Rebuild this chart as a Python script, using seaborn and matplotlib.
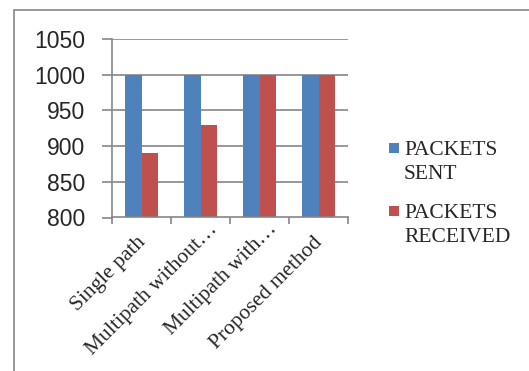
import matplotlib
matplotlib.use("Agg")
import matplotlib.pyplot as plt
from matplotlib.patches import Rectangle
from matplotlib.transforms import blended_transform_factory, ScaledTranslation
import numpy as np
import seaborn as sns
import pandas as pd

# Data
categories = ["Single path", "Multipath without…", "Multipath with…", "Proposed method"]
packets_sent = [1000, 1000, 1000, 1000]
packets_received = [890, 930, 1000, 1000]
series_names = ["PACKETS SENT", "PACKETS RECEIVED"]
y_ticks = [800, 850, 900, 950, 1000, 1050]

BLUE = "#4F81BD"
RED = "#C0504D"
GRID = "#868686"

df = pd.DataFrame({
    "category": categories * 2,
    "value": packets_sent + packets_received,
    "series": [series_names[0]] * len(categories) + [series_names[1]] * len(categories),
})

sns.set_style("white")
W, H = 529, 371
DPI = 100
fig = plt.figure(figsize=(W / DPI, H / DPI), dpi=DPI)
ax = fig.add_axes([112 / W, 1 - 217.5 / H, (348 - 112) / W, (217.5 - 39) / H])

sns.barplot(data=df, x="category", y="value", hue="series",
            palette=[BLUE, RED], width=0.57, saturation=1,
            edgecolor="none", linewidth=0, ax=ax, legend=False)

ax.set_ylim(800, 1050)
ax.set_xlim(-0.5, len(categories) - 0.5)
ax.set_yticks(y_ticks)
ax.set_yticklabels([str(t) for t in y_ticks], fontfamily="Liberation Sans", fontsize=16.5)
ax.yaxis.grid(True, color=GRID, linewidth=1.2)
ax.set_axisbelow(True)
ax.set_xlabel("")
ax.set_ylabel("")

for s in ["top", "right"]:
    ax.spines[s].set_visible(False)
for s in ["left", "bottom"]:
    ax.spines[s].set_color(GRID)
    ax.spines[s].set_linewidth(1.2)

ax.tick_params(axis="y", direction="out", length=7, width=1.2, color=GRID, pad=12, left=True)

# tick marks on group boundaries, category names drawn as rotated text
ax.set_xticks(range(len(categories)))
ax.set_xticklabels([])
ax.tick_params(axis="x", which="major", length=0)
ax.set_xticks([i - 0.5 for i in range(len(categories) + 1)], minor=True)
ax.tick_params(axis="x", which="minor", direction="out", length=5, width=1.2, color=GRID, bottom=True)

base = blended_transform_factory(ax.transData, ax.transAxes)
ang = np.deg2rad(45)
for i, name in enumerate(categories):
    dx, dy = 1.0, -22.5          # pixels from category centre at axis bottom
    if name.endswith("…"):
        # truncated names sit further along the text direction
        dx += 19 * np.cos(ang)
        dy += 19 * np.sin(ang)
    off = ScaledTranslation(dx / DPI, dy / DPI, fig.dpi_scale_trans)
    ax.text(i, 0, name, transform=base + off, rotation=45, ha="right", va="center",
            rotation_mode="anchor", fontfamily="Liberation Serif", fontsize=15.5,
            clip_on=False)

# chart-area border
fig.add_artist(Rectangle((14, -20), W + 20, H - 10 + 20, transform=None,
                         fill=False, edgecolor=GRID, linewidth=1.2))

# legend
legend_items = [(BLUE, "PACKETS\nSENT", 153), (RED, "PACKETS\nRECEIVED", 216)]
for color, label, y_bottom in legend_items:
    fig.add_artist(Rectangle((389, H - y_bottom), 10, 10, transform=None,
                             facecolor=color, edgecolor="none"))
    fig.text(404 / W, 1 - (y_bottom - 12) / H, label, ha="left", va="top",
             fontfamily="Liberation Serif", fontsize=15.5, linespacing=1.37)

fig.savefig("out.png", dpi=DPI)
